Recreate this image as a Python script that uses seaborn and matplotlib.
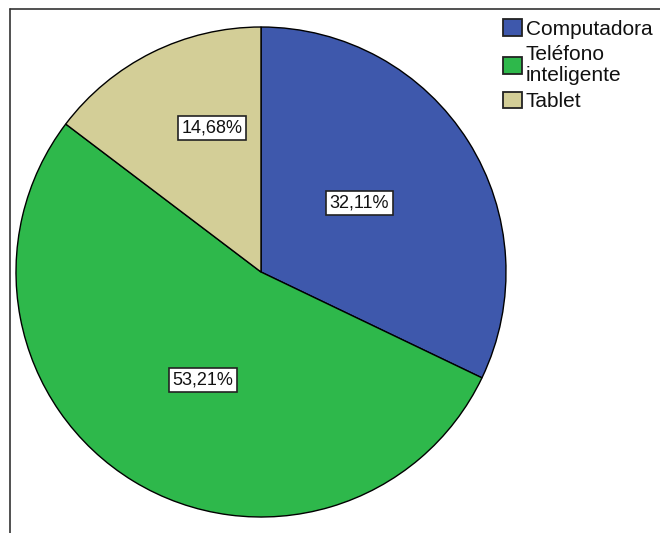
import numpy as np
import matplotlib
matplotlib.use("Agg")
import matplotlib.pyplot as plt
from matplotlib.lines import Line2D
import seaborn as sns

sns.set_theme(style="white")
plt.rcParams["font.family"] = ["Liberation Sans", "DejaVu Sans"]

# Device used by respondents
categories = ["Computadora", "Teléfono\ninteligente", "Tablet"]
percentages = [32.11, 53.21, 14.68]
colors = ["#3E58AC", "#2EB84B", "#D3CE97"]

# Placement of the percentage boxes inside each slice (radius fraction, angle shift in degrees)
label_radius = [0.49, 0.50, 0.62]
label_shift = [2.7, 3.2, -7.7]

fig = plt.figure(figsize=(6.6, 5.33), dpi=100)
W, H = 660, 533
ax = fig.add_axes([16 / W, (H - 517) / H, 490 / W, 490 / H])

wedges, _ = ax.pie(
    percentages,
    colors=colors,
    startangle=90,
    counterclock=False,
    radius=1.0,
    wedgeprops=dict(edgecolor="black", linewidth=1.0),
)
ax.set_xlim(-1.0, 1.0)
ax.set_ylim(-1.0, 1.0)
ax.set_aspect("equal")
ax.axis("off")

for w, pct, r, shift in zip(wedges, percentages, label_radius, label_shift):
    mid = np.deg2rad((w.theta1 + w.theta2) / 2 + shift)
    ax.text(
        r * np.cos(mid), r * np.sin(mid),
        f"{pct:.2f}%".replace(".", ","),
        ha="center", va="center", fontsize=13, color="#111111",
        bbox=dict(boxstyle="square,pad=0.2", fc="white", ec="#222222", lw=1.2),
    )

leg = fig.legend(
    wedges, categories,
    loc="upper left", bbox_to_anchor=(503 / W, 1 - 19 / H),
    frameon=False, fontsize=15,
    handlelength=0.9, handleheight=0.85, handletextpad=0.2,
    labelspacing=0.33, borderpad=0.0, borderaxespad=0.0,
)
for t in leg.get_texts():
    t.set_linespacing(1.1)
    t.set_color("#111111")
for h in leg.legend_handles:
    h.set_edgecolor("#222222")
    h.set_linewidth(1.3)

# Outer frame: top and left edges
fig.add_artist(Line2D([10 / W, 1.0], [1 - 9 / H, 1 - 9 / H], color="#333333", lw=1.2))
fig.add_artist(Line2D([10 / W, 10 / W], [1 - 9 / H, 0.0], color="#333333", lw=1.2))

fig.savefig("out.png", dpi=100, facecolor="white")
